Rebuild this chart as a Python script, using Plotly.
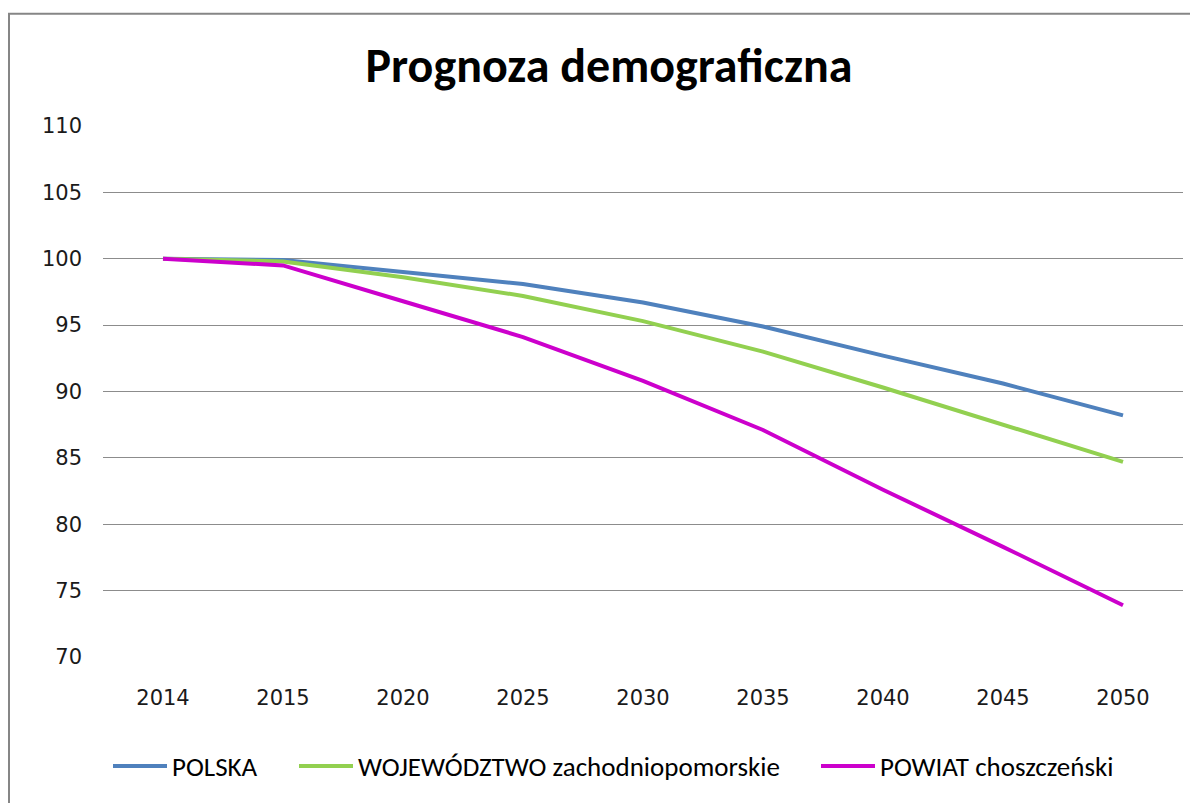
import plotly.graph_objects as go

years = ["2014", "2015", "2020", "2025", "2030", "2035", "2040", "2045", "2050"]
polska = [100.0, 99.9, 99.0, 98.1, 96.7, 94.9, 92.7, 90.6, 88.2]
wojewodztwo = [100.0, 99.8, 98.6, 97.2, 95.3, 93.0, 90.3, 87.5, 84.7]
powiat = [100.0, 99.5, 96.8, 94.1, 90.8, 87.1, 82.6, 78.3, 73.9]

names = ["POLSKA", "WOJEWÓDZTWO zachodniopomorskie", "POWIAT choszczeński"]
colors = ["#4F81BD", "#92D050", "#CC00CC"]

OFF = 8  # page body margin
W, H = 1190, 795
L, R, T, B = 95, 15, 118, 143
pw, ph = W - L - R, H - T - B

def px_x(p):
    return (p - OFF - L) / pw

def px_y(p):
    return (H - B - (p - OFF)) / ph

FONT = "Carlito, Liberation Sans Narrow, Roboto Condensed, Roboto"

legend_names = ["legend", "legend2", "legend3"]
legend_x = [108, 294, 816]

fig = go.Figure()
for name, vals, col, lg in zip(names, [polska, wojewodztwo, powiat], colors, legend_names):
    fig.add_trace(go.Scatter(x=years, y=vals, name=name, mode="lines",
                             line=dict(color=col, width=4), legend=lg))

fig.add_shape(type="rect", xref="paper", yref="paper",
              x0=px_x(9), x1=px_x(1220), y0=px_y(820), y1=px_y(13),
              line=dict(color="#868686", width=2), layer="below")

legend_common = dict(orientation="h", xanchor="left", y=px_y(770), yanchor="middle",
                     font=dict(family=FONT, size=27, color="black"),
                     bgcolor="rgba(0,0,0,0)", borderwidth=0, itemwidth=54)

fig.update_layout(
    width=W, height=H,
    margin=dict(l=L, r=R, t=T, b=B),
    paper_bgcolor="white", plot_bgcolor="white",
    title=dict(text="<b>Prognoza demograficzna</b>", x=(609 - OFF) / W, xref="container",
               xanchor="center", y=1 - (65 - OFF) / H, yanchor="middle",
               font=dict(family=FONT, size=48, color="black")),
    xaxis=dict(type="category", range=[-0.5, 8.5], showgrid=False, showline=False,
               zeroline=False, ticks="", ticklabelstandoff=26,
               tickfont=dict(family="DejaVu Sans", size=21, color="#1a1a1a")),
    yaxis=dict(range=[70, 110], dtick=5, tick0=70, showgrid=True, gridcolor="#8c8c8c",
               gridwidth=1, zeroline=False, showline=False, ticks="",
               ticklabelstandoff=20,
               tickfont=dict(family="DejaVu Sans", size=21, color="#1a1a1a")),
    legend=dict(x=px_x(legend_x[0]), **legend_common),
    legend2=dict(x=px_x(legend_x[1]), **legend_common),
    legend3=dict(x=px_x(legend_x[2]), **legend_common),
    showlegend=True,
)

fig.write_html("out.html")
